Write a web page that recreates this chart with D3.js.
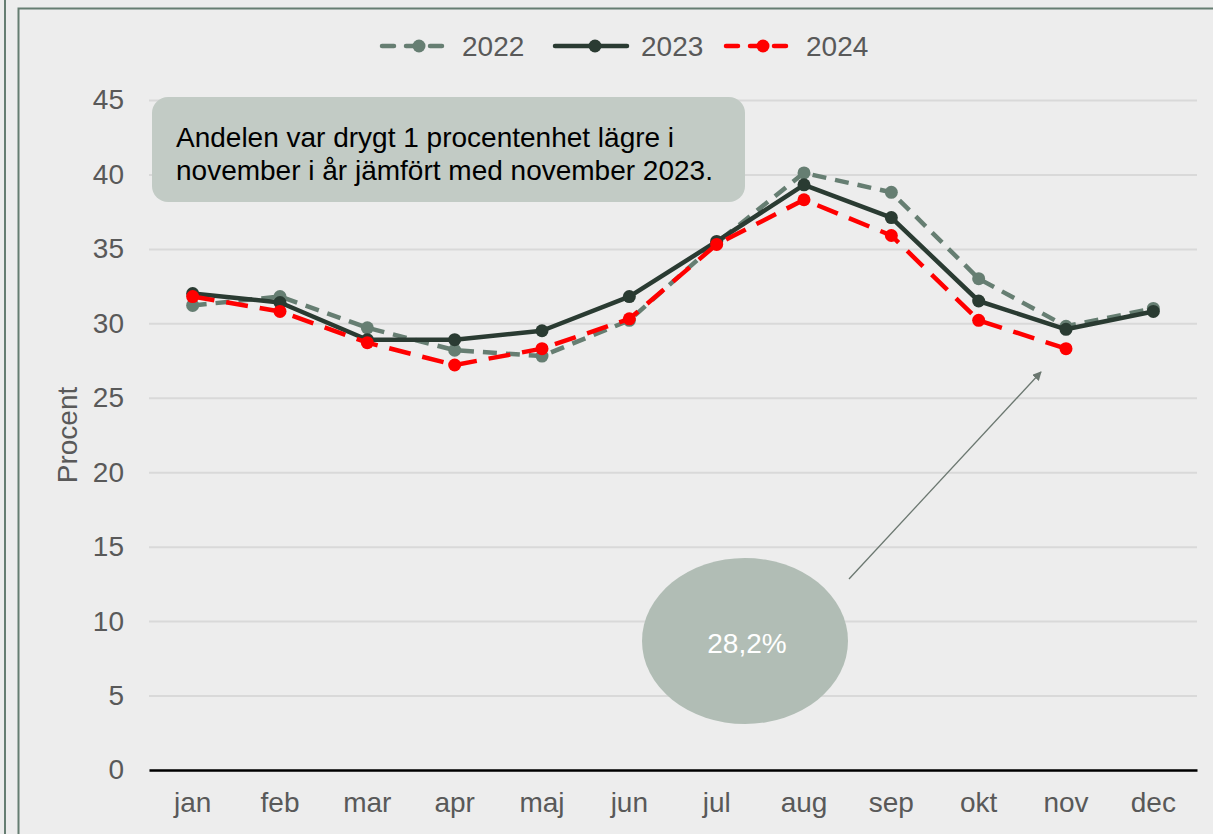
<!DOCTYPE html>
<html>
<head>
<meta charset="utf-8">
<script src="https://cdn.jsdelivr.net/npm/d3@7"></script>
<style>
  body { margin: 0; background: #ededed; }
  svg { display: block; font-family: "Liberation Sans", Arial, sans-serif; }
</style>
</head>
<body>
<svg id="chart" width="1213" height="834"></svg>
<script>
const months = ['jan','feb','mar','apr','maj','jun','jul','aug','sep','okt','nov','dec'];
const v2022 = [31.2, 31.8, 29.7, 28.2, 27.8, 30.2, 35.4, 40.1, 38.8, 33.0, 29.8, 31.0];
const v2023 = [32.0, 31.4, 28.9, 28.9, 29.5, 31.8, 35.5, 39.3, 37.1, 31.5, 29.6, 30.8];
const v2024 = [31.8, 30.8, 28.7, 27.2, 28.3, 30.3, 35.3, 38.3, 35.9, 30.2, 28.3];
const yTicks = [0, 5, 10, 15, 20, 25, 30, 35, 40, 45];
const note = ['Andelen var drygt 1 procentenhet lägre i', 'november i år jämfört med november 2023.'];
const bubbleText = '28,2%';

const series = [
  {name: '2022', values: v2022, color: '#667e72', dash: '14,9'},
  {name: '2023', values: v2023, color: '#2a3b32', dash: null},
  {name: '2024', values: v2024, color: '#ff0000', dash: '22,12'}
];

const svg = d3.select('#chart');
const margin = {top: 100, left: 149, right: 16, bottom: 64};
const width = 1213 - margin.left - margin.right;
const height = 834 - margin.top - margin.bottom;
const fontSize = '28px';

// frames
svg.append('rect').attr('x', 18.5).attr('y', 8.5).attr('width', 1220).attr('height', 840)
  .attr('fill', '#ededed').attr('stroke', '#667e72').attr('stroke-width', 2);
svg.append('line').attr('x1', 5).attr('x2', 5).attr('y1', 0).attr('y2', 834)
  .attr('stroke', '#667e72').attr('stroke-width', 2);

const g = svg.append('g').attr('transform', `translate(${margin.left},${margin.top})`);

const x = d3.scaleBand().domain(months).range([0, width]);
const y = d3.scaleLinear().domain([0, 45]).range([height, 0]);

// gridlines
g.append('g')
  .call(d3.axisLeft(y).tickValues(yTicks).tickSize(-width).tickFormat(''))
  .call(s => s.select('.domain').remove())
  .call(s => s.selectAll('line').attr('stroke', '#d9d9d9').attr('stroke-width', 2));

// y tick labels
g.append('g')
  .call(d3.axisLeft(y).tickValues(yTicks).tickSize(0).tickPadding(25))
  .call(s => s.select('.domain').remove())
  .call(s => s.selectAll('text').attr('fill', '#595959').style('font-size', fontSize)
    .style('font-family', '"Liberation Sans", Arial, sans-serif'));

// x axis
g.append('g').attr('transform', `translate(0,${height})`)
  .call(d3.axisBottom(x).tickSize(0).tickPadding(22))
  .call(s => s.select('.domain').attr('stroke', '#000').attr('stroke-width', 2.5))
  .call(s => s.selectAll('text').attr('fill', '#595959').style('font-size', fontSize)
    .style('font-family', '"Liberation Sans", Arial, sans-serif'));

// y label
svg.append('text').attr('transform', 'translate(77,435) rotate(-90)')
  .attr('text-anchor', 'middle').attr('fill', '#595959').style('font-size', fontSize).text('Procent');

// note box
svg.append('rect').attr('x', 152).attr('y', 97).attr('width', 593).attr('height', 105)
  .attr('rx', 16).attr('fill', '#c2cbc5');
svg.append('text').attr('x', 176).attr('y', 147).attr('fill', '#000').style('font-size', fontSize)
  .selectAll('tspan').data(note).join('tspan')
  .attr('x', 176).attr('dy', (d, i) => i ? 33 : 0).text(d => d);

// lines
const line = d3.line().x((d, i) => x(months[i]) + x.bandwidth() / 2).y(d => y(d));
series.forEach(s => {
  g.append('path').datum(s.values).attr('d', line).attr('fill', 'none')
    .attr('stroke', s.color).attr('stroke-width', 4.5).attr('stroke-linejoin', 'round')
    .attr('stroke-dasharray', s.dash);
  g.selectAll(null).data(s.values).join('circle')
    .attr('cx', (d, i) => x(months[i]) + x.bandwidth() / 2).attr('cy', d => y(d))
    .attr('r', 6.5).attr('fill', s.color);
});

// bubble + arrow
svg.append('ellipse').attr('cx', 745).attr('cy', 641).attr('rx', 103).attr('ry', 83).attr('fill', '#b1bdb5');
svg.append('text').attr('x', 747).attr('y', 653).attr('text-anchor', 'middle').attr('fill', '#fff')
  .style('font-size', fontSize).text(bubbleText);
svg.append('defs').append('marker').attr('id', 'arrow').attr('viewBox', '0 0 10 10')
  .attr('refX', 9).attr('refY', 5).attr('markerWidth', 9).attr('markerHeight', 9)
  .attr('orient', 'auto').attr('markerUnits', 'userSpaceOnUse')
  .append('path').attr('d', 'M0,0L10,5L0,10z').attr('fill', '#6b7770');
svg.append('line').attr('x1', 849).attr('y1', 579).attr('x2', 1041).attr('y2', 372)
  .attr('stroke', '#6b7770').attr('stroke-width', 1.3).attr('marker-end', 'url(#arrow)');

// legend
const legendPos = [{x: 382, w: 66}, {x: 555, w: 72}, {x: 726, w: 66}];
const legend = svg.append('g');
series.forEach((s, i) => {
  const p = legendPos[i];
  legend.append('line').attr('x1', p.x).attr('x2', p.x + p.w).attr('y1', 46).attr('y2', 46)
    .attr('stroke', s.color).attr('stroke-width', 4.5).attr('stroke-linecap', 'round')
    .attr('stroke-dasharray', s.dash ? '12,12' : null);
  legend.append('circle').attr('cx', p.x + p.w / 2 + 4).attr('cy', 46).attr('r', 6.5).attr('fill', s.color);
  legend.append('text').attr('x', p.x + p.w + 14).attr('y', 56).attr('fill', '#595959')
    .style('font-size', fontSize).text(s.name);
});
</script>
</body>
</html>
